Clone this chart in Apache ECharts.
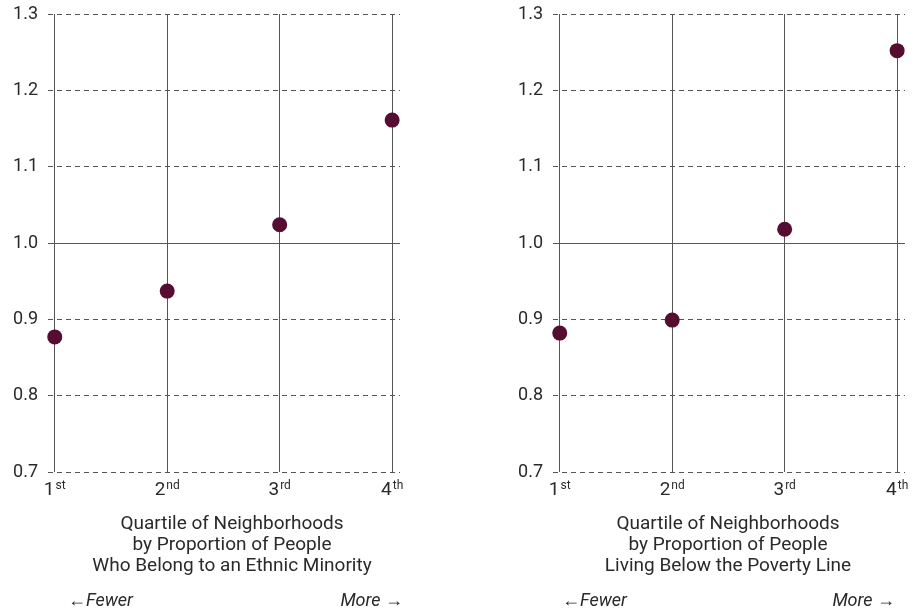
<!DOCTYPE html>
<html>
<head>
<meta charset="utf-8">
<script src="https://cdn.jsdelivr.net/npm/echarts@6/dist/echarts.min.js"></script>
<style>html,body{margin:0;padding:0;background:#fff}#c{width:921px;height:612px}</style>
</head>
<body>
<div id="c"></div>
<script>
const quartiles = [1, 2, 3, 4];
const quartileSuffix = ['st', 'nd', 'rd', 'th'];
const yTicks = [0.7, 0.8, 0.9, 1.0, 1.1, 1.2, 1.3];
const ethnicValues = [0.877, 0.937, 1.024, 1.161];
const povertyValues = [0.882, 0.899, 1.018, 1.252];
const leftTitle = ['Quartile of Neighborhoods', 'by Proportion of People', 'Who Belong to an Ethnic Minority'];
const rightTitle = ['Quartile of Neighborhoods', 'by Proportion of People', 'Living Below the Poverty Line'];

const FONT = 'Roboto';
const DOT = '#560d32';
const LINE = '#555';
const TXT = '#2a2a2a';

const chart = echarts.init(document.getElementById('c'), null, {renderer: 'canvas'});

function xAxis(gi) {
  return {
    type: 'value', gridIndex: gi, min: 0.94, max: 4.07,
    axisLine: {show: false}, axisTick: {show: false}, splitLine: {show: false},
    axisLabel: {
      customValues: quartiles, margin: 8,
      formatter: v => '{n|' + v + '}{s|' + quartileSuffix[v - 1] + '}',
      rich: {
        n: {fontFamily: FONT, fontSize: 19, color: TXT},
        s: {fontFamily: FONT, fontSize: 12, color: TXT, padding: [0, 0, 8, 1]}
      }
    }
  };
}
function yAxis(gi) {
  return {
    type: 'value', gridIndex: gi, min: yTicks[0], max: yTicks[yTicks.length - 1], interval: 0.1,
    axisLine: {show: false}, axisTick: {show: false},
    axisLabel: {fontFamily: FONT, fontSize: 18, color: TXT, margin: 10,
      formatter: v => v.toFixed(1)},
    splitLine: {show: true, lineStyle: {type: [5, 4], color: '#555', width: 1}}
  };
}
function series(gi, vals) {
  return {
    type: 'scatter', xAxisIndex: gi, yAxisIndex: gi,
    data: quartiles.map((q, i) => [q, vals[i]]),
    symbolSize: 15, itemStyle: {color: DOT, opacity: 1}, z: 5,
    markLine: {
      silent: true, symbol: 'none', label: {show: false}, animation: false,
      lineStyle: {color: LINE, type: 'solid', width: 1},
      data: quartiles.map(q => ({xAxis: q})).concat([{yAxis: 1.0}])
    }
  };
}

chart.setOption({
  animation: false,
  grid: [
    {left: 48, top: 14, width: 352, height: 458},
    {left: 553, top: 14, width: 352, height: 458}
  ],
  xAxis: [xAxis(0), xAxis(1)],
  yAxis: [yAxis(0), yAxis(1)],
  series: [series(0, ethnicValues), series(1, povertyValues)],
  graphic: [
    {type: 'text', x: 232, y: 514, style: {text: leftTitle.join('\n'), align: 'center', fontFamily: FONT, fontSize: 19, lineHeight: 21, fill: TXT}},
    {type: 'text', x: 728, y: 514, style: {text: rightTitle.join('\n'), align: 'center', fontFamily: FONT, fontSize: 19, lineHeight: 21, fill: TXT}},
    {type: 'text', x: 68, y: 592, style: {text: '\u2190Fewer', align: 'left', fontFamily: FONT, fontStyle: 'italic', fontSize: 18, fill: TXT}},
    {type: 'text', x: 403, y: 592, style: {text: 'More \u2192', align: 'right', fontFamily: FONT, fontStyle: 'italic', fontSize: 18, fill: TXT}},
    {type: 'text', x: 562, y: 592, style: {text: '\u2190Fewer', align: 'left', fontFamily: FONT, fontStyle: 'italic', fontSize: 18, fill: TXT}},
    {type: 'text', x: 895, y: 592, style: {text: 'More \u2192', align: 'right', fontFamily: FONT, fontStyle: 'italic', fontSize: 18, fill: TXT}}
  ]
});
</script>
</body>
</html>
